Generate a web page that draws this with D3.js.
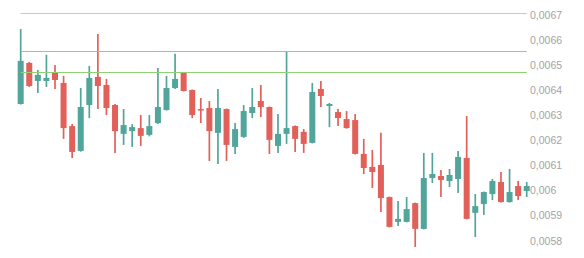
<!DOCTYPE html>
<html>
<head>
<meta charset="utf-8">
<script src="https://cdn.jsdelivr.net/npm/d3@7"></script>
<style>
  html, body { margin: 0; padding: 0; background: #fff; }
  svg { display: block; }
</style>
</head>
<body>
<svg id="chart" width="584" height="258"></svg>
<script>
// ---- data ----
const opens  = [0.006345,0.006509,0.006437,0.006437,0.006469,0.006429,0.006257,0.006158,0.006341,0.006453,
                0.006421,0.006341,0.006226,0.006237,0.006249,0.006222,0.006269,0.006321,0.006409,0.006469,
                0.006401,0.006325,0.006329,0.006230,0.006325,0.006174,0.006214,0.006309,0.006357,0.006333,
                0.006178,0.006226,0.006257,0.006234,0.006190,0.006405,0.006337,0.006313,0.006285,0.006281,
                0.006146,0.006094,0.006102,0.005974,0.005875,0.005875,0.005950,0.005847,0.006050,0.006058,
                0.006038,0.006046,0.006130,0.005911,0.005946,0.005986,0.006034,0.005954,0.006018,0.005998];
const highs  = [0.006644,0.006513,0.006481,0.006541,0.006501,0.006457,0.006265,0.006409,0.006497,0.006624,
                0.006445,0.006345,0.006325,0.006265,0.006301,0.006301,0.006489,0.006457,0.006545,0.006473,
                0.006403,0.006369,0.006357,0.006405,0.006327,0.006269,0.006341,0.006409,0.006421,0.006335,
                0.006305,0.006553,0.006259,0.006245,0.006429,0.006437,0.006349,0.006325,0.006317,0.006305,
                0.006206,0.006162,0.006230,0.005976,0.005958,0.005974,0.005952,0.006150,0.006150,0.006082,
                0.006086,0.006158,0.006297,0.005986,0.005996,0.006046,0.006074,0.006086,0.006038,0.006034];
const lows   = [0.006343,0.006413,0.006389,0.006413,0.006405,0.006206,0.006130,0.006155,0.006289,0.006325,
                0.006301,0.006150,0.006182,0.006174,0.006178,0.006216,0.006265,0.006319,0.006405,0.006395,
                0.006289,0.006269,0.006118,0.006106,0.006118,0.006146,0.006210,0.006289,0.006293,0.006146,
                0.006150,0.006186,0.006154,0.006150,0.006188,0.006333,0.006253,0.006257,0.006247,0.006144,
                0.006066,0.006010,0.005914,0.005853,0.005859,0.005873,0.005775,0.005845,0.006030,0.005974,
                0.006014,0.005990,0.005885,0.005815,0.005903,0.005962,0.005952,0.005952,0.005962,0.005974];
const closes = [0.006517,0.006417,0.006461,0.006449,0.006441,0.006249,0.006154,0.006333,0.006449,0.006417,
                0.006329,0.006237,0.006261,0.006253,0.006218,0.006257,0.006333,0.006409,0.006445,0.006397,
                0.006301,0.006321,0.006237,0.006329,0.006182,0.006245,0.006317,0.006333,0.006333,0.006202,
                0.006226,0.006249,0.006206,0.006186,0.006393,0.006377,0.006345,0.006289,0.006249,0.006146,
                0.006090,0.006074,0.005970,0.005855,0.005887,0.005926,0.005847,0.006050,0.006066,0.006042,
                0.006062,0.006134,0.005887,0.005938,0.005994,0.006038,0.005954,0.005994,0.005978,0.006018];

const tickValues = [0.0058,0.0059,0.006,0.0061,0.0062,0.0063,0.0064,0.0065,0.0066,0.0067];
const tickLabels = ["0,0058","0,0059","0,006","0,0061","0,0062","0,0063","0,0064","0,0065","0,0066","0,0067"];

const levelValues = [0.006707, 0.006555, 0.006473];
const levelColors = ["#e6d050", "#8fd174", "#8fd174"];

const upColor = "#52a59a";
const downColor = "#e2605a";

// ---- build ----
const candles = opens.map((o, i) => ({ i, o, h: highs[i], l: lows[i], c: closes[i] }));

const svg = d3.select("#chart");

const x = d3.scaleBand()
  .domain(candles.map(d => d.i))
  .range([16.4, 531.0])
  .paddingInner(0.3)
  .paddingOuter(0.15);

const y = d3.scaleLinear()
  .domain([0.0058, 0.0067])
  .range([240.7, 15]);

const cx = d => x(d.i) + x.bandwidth() / 2;

const g = svg.append("g");

// wicks
g.selectAll("line.wick")
  .data(candles)
  .join("line")
  .attr("class", "wick")
  .attr("x1", cx).attr("x2", cx)
  .attr("y1", d => y(d.h)).attr("y2", d => y(d.l))
  .style("stroke", d => d.c >= d.o ? upColor : downColor)
  .style("stroke-width", 1.7);

// bodies
g.selectAll("rect.body")
  .data(candles)
  .join("rect")
  .attr("class", "body")
  .attr("x", d => x(d.i))
  .attr("width", x.bandwidth())
  .attr("y", d => y(Math.max(d.o, d.c)))
  .attr("height", d => Math.max(1.5, Math.abs(y(d.o) - y(d.c))))
  .style("fill", d => d.c >= d.o ? upColor : downColor);

// level lines
const x0 = cx(candles[0]);
const x1 = cx(candles[candles.length - 1]);
const lg = svg.append("g").attr("class", "levels");
levelValues.forEach((v, i) => {
  const yy = Math.round(y(v)) + 0.5;
  lg.append("line")
    .attr("x1", x0).attr("x2", x1)
    .attr("y1", yy).attr("y2", yy)
    .style("stroke", levelColors[i])
    .style("stroke-width", 1.2);
});

// axis
const axis = d3.axisRight(y)
  .tickValues(tickValues)
  .tickFormat((d, i) => tickLabels[i])
  .tickSize(0)
  .tickPadding(0);

const ag = svg.append("g")
  .attr("transform", "translate(530,0)")
  .call(axis);
ag.select(".domain").remove();
ag.selectAll("text")
  .style("fill", "#a3a3a3")
  .attr("font-family", "Liberation Sans, Arial, sans-serif")
  .attr("font-size", "10.5px");
</script>
</body>
</html>
